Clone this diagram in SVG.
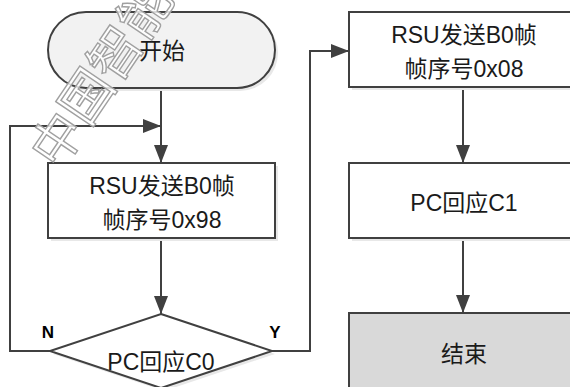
<svg xmlns="http://www.w3.org/2000/svg" width="570" height="387" viewBox="0 0 570 387">
<defs>
<style>
.shape{stroke:#404040;stroke-width:2;}
.shadow{fill:#e8e8e8;stroke:none;}
.lbl{font-family:"Liberation Sans","Noto Sans CJK SC",sans-serif;font-size:23px;fill:#1a1a1a;text-anchor:middle;}
.yn{font-family:"Liberation Sans",sans-serif;font-size:17px;font-weight:bold;fill:#000;text-anchor:middle;}
.conn{fill:none;stroke:#404040;stroke-width:2;}
.wm{font-family:"Noto Sans CJK SC",sans-serif;font-size:52px;fill:#ffffff;fill-opacity:0.8;stroke:#a0a0a0;stroke-width:1.4;}
</style>
<marker id="arr" viewBox="0 0 18 14" refX="18" refY="7" markerWidth="18" markerHeight="14" markerUnits="userSpaceOnUse" orient="auto">
<path d="M0,0 L18,7 L0,14 Z" fill="#404040"/>
</marker>
</defs>
<rect width="570" height="387" fill="#ffffff"/>
<g id="connectors">
<line class="conn" x1="161" y1="88" x2="161" y2="163" marker-end="url(#arr)"/>
<polyline class="conn" points="50,351 10,351 10,126 161,126" marker-end="url(#arr)"/>
<line class="conn" x1="161" y1="238" x2="161" y2="314" marker-end="url(#arr)"/>
<polyline class="conn" points="272,351 310,351 310,51 349,51" marker-end="url(#arr)"/>
<line class="conn" x1="463" y1="88" x2="463" y2="163" marker-end="url(#arr)"/>
<line class="conn" x1="463" y1="238" x2="463" y2="313" marker-end="url(#arr)"/>
</g>
<g id="start">
<rect class="shadow" x="51" y="15" width="227" height="76" rx="38"/>
<rect class="shape" x="48" y="12" width="227" height="76" rx="38" fill="#f2f2f2"/>
<text class="lbl" x="162" y="59">开始</text>
</g>
<g id="send98">
<rect class="shadow" x="51" y="166" width="227" height="75"/>
<rect class="shape" x="48" y="163" width="227" height="75" fill="#ffffff"/>
<text class="lbl" x="162" y="194">RSU发送B0帧</text>
<text class="lbl" x="162" y="228">帧序号0x98</text>
</g>
<g id="decision">
<polygon class="shadow" points="164,317 275,354 164,391 53,354"/>
<polygon class="shape" points="161,314 272,351 161,388 50,351" fill="#ffffff"/>
<text class="lbl" x="161" y="370">PC回应C0</text>
</g>
<g id="labels">
<text class="yn" x="48" y="338">N</text>
<text class="yn" x="275" y="338">Y</text>
</g>
<g id="send08">
<rect class="shadow" x="352" y="15" width="228" height="75"/>
<rect class="shape" x="349" y="12" width="228" height="75" fill="#ffffff"/>
<text class="lbl" x="464" y="43">RSU发送B0帧</text>
<text class="lbl" x="464" y="77">帧序号0x08</text>
</g>
<g id="reply">
<rect class="shadow" x="352" y="166" width="228" height="75"/>
<rect class="shape" x="349" y="163" width="228" height="75" fill="#ffffff"/>
<text class="lbl" x="464" y="211">PC回应C1</text>
</g>
<g id="end">
<rect class="shape" x="349" y="313" width="228" height="80" fill="#d9d9d9"/>
<text class="lbl" x="464" y="362">结束</text>
</g>
<text class="wm" transform="translate(58,140) rotate(-56)" x="-26" y="18">中国智能</text>
</svg>
